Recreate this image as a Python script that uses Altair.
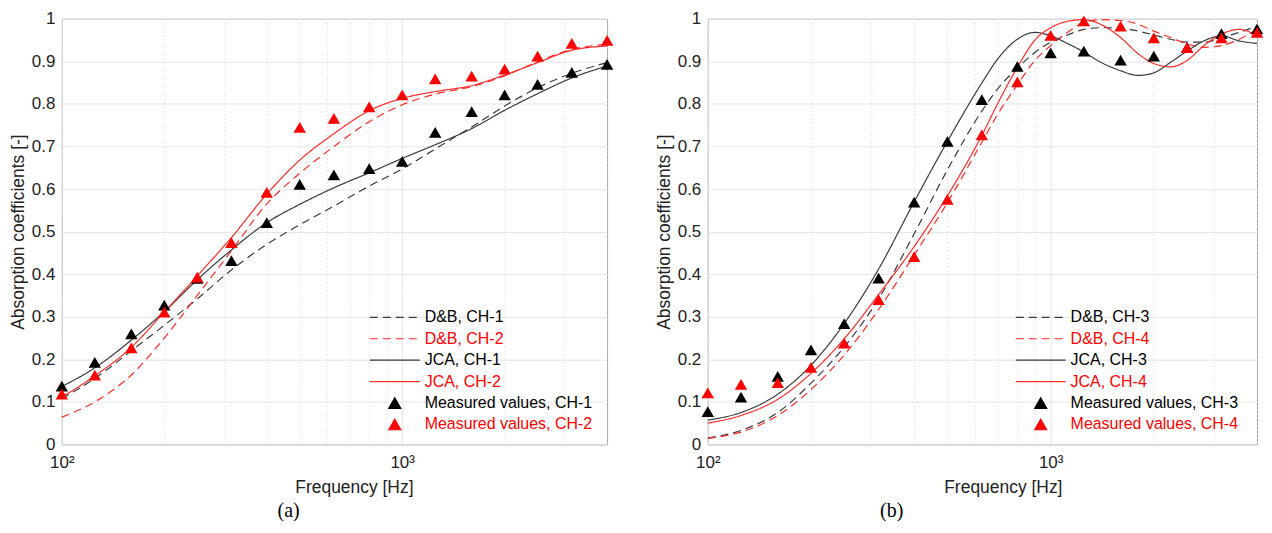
import altair as alt
import pandas as pd

# ---------------- data ----------------
A_FREQ = [100, 125, 160, 200, 250, 315, 400, 500, 630, 800, 1000, 1250, 1600, 2000, 2500, 3150, 4000]
A_DB_CH1 = [0.108, 0.155, 0.220, 0.280, 0.342, 0.410, 0.470, 0.516, 0.560, 0.607, 0.647, 0.694, 0.746, 0.795, 0.838, 0.872, 0.897]
A_DB_CH2 = [0.064, 0.100, 0.163, 0.250, 0.350, 0.455, 0.565, 0.637, 0.700, 0.758, 0.798, 0.823, 0.841, 0.866, 0.899, 0.928, 0.940]
A_JCA_CH1 = [0.136, 0.180, 0.245, 0.312, 0.387, 0.457, 0.521, 0.564, 0.603, 0.638, 0.672, 0.704, 0.742, 0.785, 0.824, 0.861, 0.889]
A_JCA_CH2 = [0.111, 0.161, 0.228, 0.311, 0.396, 0.486, 0.588, 0.668, 0.730, 0.784, 0.813, 0.829, 0.843, 0.868, 0.897, 0.926, 0.936]
A_MEAS_CH1 = [0.137, 0.193, 0.260, 0.327, 0.390, 0.432, 0.521, 0.611, 0.633, 0.648, 0.665, 0.733, 0.782, 0.821, 0.846, 0.874, 0.893]
A_MEAS_CH2 = [0.118, 0.163, 0.227, 0.311, 0.393, 0.474, 0.592, 0.745, 0.766, 0.793, 0.821, 0.859, 0.865, 0.882, 0.912, 0.942, 0.949]

B_FREQ = [100, 125, 160, 200, 250, 315, 400, 500, 630, 700, 800, 900, 1000, 1120, 1250,
          1400, 1600, 1800, 2000, 2240, 2500, 2800, 3150, 3550, 4000]
B_DB_CH3 = [0.015, 0.033, 0.075, 0.144, 0.229, 0.342, 0.495, 0.645, 0.783, 0.835, 0.884, 0.921, 0.945,
            0.962, 0.975, 0.979, 0.978, 0.971, 0.962, 0.952, 0.945, 0.945, 0.955, 0.968, 0.983]
B_DB_CH4 = [0.014, 0.029, 0.068, 0.129, 0.210, 0.317, 0.445, 0.568, 0.710, 0.775, 0.845, 0.902, 0.937,
            0.968, 0.991, 0.998, 0.996, 0.987, 0.971, 0.956, 0.941, 0.933, 0.937, 0.952, 0.975]
B_JCA_CH3 = [0.057, 0.075, 0.118, 0.186, 0.284, 0.412, 0.570, 0.712, 0.849, 0.905, 0.952, 0.968, 0.960,
             0.942, 0.922, 0.898, 0.878, 0.867, 0.873, 0.898, 0.924, 0.948, 0.960, 0.948, 0.942]
B_JCA_CH4 = [0.050, 0.068, 0.106, 0.167, 0.248, 0.352, 0.465, 0.584, 0.726, 0.800, 0.886, 0.950, 0.979,
             0.994, 0.998, 0.987, 0.956, 0.918, 0.895, 0.887, 0.902, 0.937, 0.964, 0.975, 0.960]
B_MEAS_FREQ = [100, 125, 160, 200, 250, 315, 400, 500, 630, 800, 1000, 1250, 1600, 2000, 2500, 3150, 4000]
B_MEAS_CH3 = [0.077, 0.111, 0.160, 0.222, 0.284, 0.391, 0.569, 0.712, 0.810, 0.888, 0.920, 0.924, 0.903, 0.912, 0.932, 0.965, 0.976]
B_MEAS_CH4 = [0.121, 0.141, 0.145, 0.181, 0.238, 0.340, 0.441, 0.576, 0.727, 0.852, 0.961, 0.995, 0.983, 0.955, 0.932, 0.955, 0.968]

X_TICKS = [100, 200, 300, 400, 500, 600, 700, 800, 900, 1000, 2000, 3000, 4000]
Y_TICKS = [0, 0.1, 0.2, 0.3, 0.4, 0.5, 0.6, 0.7, 0.8, 0.9, 1.0]

FONT = "Liberation Sans"
BLACK_LINE = "#3a3a3a"
RED_LINE = "#ff2b2b"


def long_df(freqs, series):
    rows = []
    for name, vals in series:
        for f, v in zip(freqs, vals):
            rows.append({"series": name, "freq": f, "alpha": v})
    return pd.DataFrame(rows)


def panel(curves, meas, names, red_tag, width, height, caption, caption_dx, title_x, legend_y):
    line_names = names[:4]
    color_scale = alt.Scale(domain=names, range=[BLACK_LINE, RED_LINE, BLACK_LINE, RED_LINE, "#000000", "#ff0000"])
    major = "datum.value == 100 || datum.value == 1000"
    x_axis = alt.Axis(
        values=X_TICKS,
        labelExpr="datum.value == 100 ? '10²' : (datum.value == 1000 ? '10³' : '')",
        title="Frequency [Hz]",
        titleX=title_x,
        grid=True,
        gridColor={"condition": {"test": major, "value": "#e2e2e2"}, "value": "#d4d4d4"},
        gridDash={"condition": {"test": major, "value": [1, 0]}, "value": [1, 3]},
        gridWidth=1,
        ticks=False,
        domain=False,
        labelFlush=False,
        labelOverlap=False,
        labelFont=FONT,
        labelFontSize=17,
        labelColor="#222222",
        labelPadding=10,
        titleFont=FONT,
        titleFontSize=17.5,
        titleFontWeight="normal",
        titleColor="#222222",
        titlePadding=8,
    )
    y_axis = alt.Axis(
        values=Y_TICKS,
        format=".1~f",
        title="Absorption coefficients [-]",
        grid=True,
        gridColor="#e4e4e4",
        gridWidth=1,
        ticks=False,
        domain=False,
        labelFlush=False,
        labelOverlap=False,
        labelFont=FONT,
        labelFontSize=17,
        labelColor="#222222",
        labelPadding=7,
        titleFont=FONT,
        titleFontSize=17.5,
        titleFontWeight="normal",
        titleColor="#222222",
        titlePadding=4,
    )
    x = alt.X("freq:Q", scale=alt.Scale(type="log", domain=[100, 4000], nice=False), axis=x_axis)
    y = alt.Y("alpha:Q", scale=alt.Scale(domain=[0, 1], nice=False), axis=y_axis)
    red_expr = f"indexof(datum.label, '{red_tag}') >= 0 ? '#ff0000' : '#000000'"
    legend = alt.Legend(
        title=None,
        orient="none",
        legendX=308,
        legendY=legend_y,
        padding=0,
        symbolSize=2500,
        symbolOffset=0,
        symbolType={"expr": "indexof(datum.label, 'Measured') >= 0 ? 'M0,-0.21L0.24,0.21L-0.24,0.21Z' : 'M-1,0L1,0'"},
        symbolDash={"expr": "indexof(datum.label, 'D&B') >= 0 ? [8, 5] : [1, 0]"},
        symbolFillColor={"expr": red_expr},
        symbolStrokeWidth=1.2,
        clipHeight=21,
        rowPadding=0.5,
        labelOffset=4,
        labelColor={"expr": red_expr},
        labelFont=FONT,
        labelFontSize=16,
        labelLimit=400,
    )
    lines = alt.Chart(curves).mark_line(strokeWidth=1.2, interpolate="monotone").encode(
        x=x,
        y=y,
        color=alt.Color("series:N", scale=color_scale, legend=legend),
        strokeDash=alt.StrokeDash(
            "series:N",
            scale=alt.Scale(domain=line_names, range=[[8, 5], [8, 5], [1, 0], [1, 0]]),
            legend=None,
        ),
    )
    pts = alt.Chart(meas).mark_point(shape="triangle-up", filled=True, size=155, opacity=1).encode(
        x=x,
        y=y,
        color=alt.Color("series:N", scale=color_scale, legend=legend),
    )
    return alt.layer(lines, pts).properties(
        width=width,
        height=height,
        title=alt.TitleParams(
            text=caption,
            orient="bottom",
            anchor="middle",
            frame="group",
            dx=caption_dx,
            offset=5,
            font="Liberation Serif",
            fontSize=20,
            fontWeight="normal",
            color="#000000",
        ),
    )


names_a = ["D&B, CH-1", "D&B, CH-2", "JCA, CH-1", "JCA, CH-2", "Measured values, CH-1", "Measured values, CH-2"]
names_b = ["D&B, CH-3", "D&B, CH-4", "JCA, CH-3", "JCA, CH-4", "Measured values, CH-3", "Measured values, CH-4"]

curves_a = long_df(A_FREQ, [(names_a[0], A_DB_CH1), (names_a[1], A_DB_CH2), (names_a[2], A_JCA_CH1), (names_a[3], A_JCA_CH2)])
meas_a = long_df(A_FREQ, [(names_a[4], A_MEAS_CH1), (names_a[5], A_MEAS_CH2)])
curves_b = long_df(B_FREQ, [(names_b[0], B_DB_CH3), (names_b[1], B_DB_CH4), (names_b[2], B_JCA_CH3), (names_b[3], B_JCA_CH4)])
meas_b = long_df(B_MEAS_FREQ, [(names_b[4], B_MEAS_CH3), (names_b[5], B_MEAS_CH4)])

pa = panel(curves_a, meas_a, names_a, "CH-2", 547, 427, "(a)", -46, 293, 289)
pb = panel(curves_b, meas_b, names_b, "CH-4", 551, 427, "(b)", -91, 296, 289)

chart = (
    alt.hconcat(pa, pb, spacing=40)
    .resolve_scale(color="independent", strokeDash="independent")
    .properties(padding={"left": 0, "top": 0, "right": 0, "bottom": 0})
    .configure_view(stroke="#a0a0a0", strokeWidth=1)
)

chart.save("out.html", embed_options={"renderer": "svg", "actions": False})
